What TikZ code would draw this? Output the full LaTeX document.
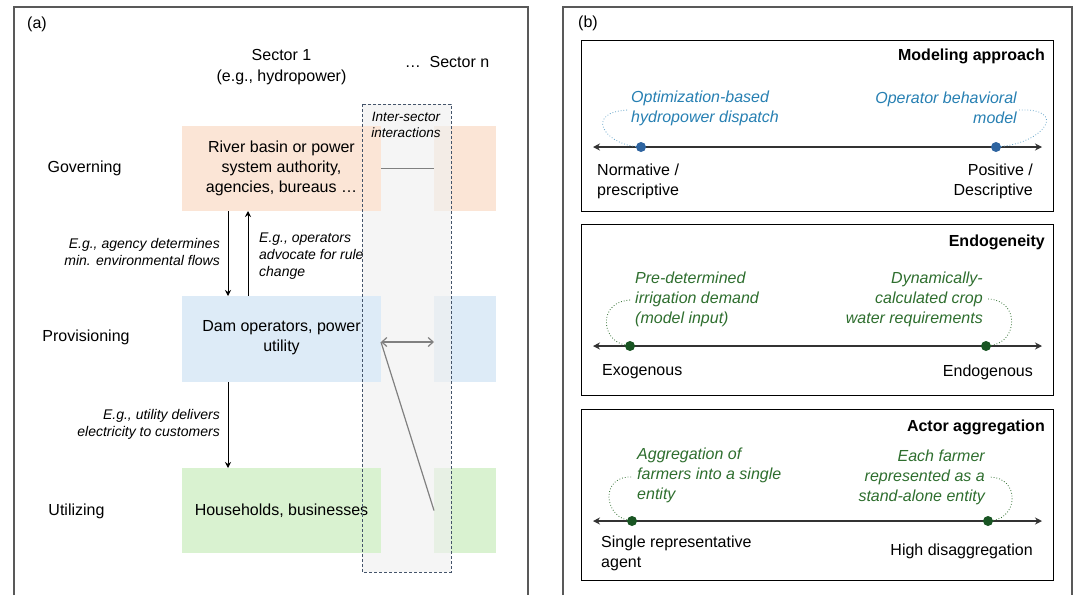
\documentclass[tikz,border=0pt]{standalone}
\usepackage{fontspec}
\setmainfont{Liberation Sans}
\usetikzlibrary{arrows.meta}
\definecolor{orangeF}{HTML}{FBE5D6}
\definecolor{blueF}{HTML}{DDEBF7}
\definecolor{greenF}{HTML}{D9F2D0}
\definecolor{isecF}{HTML}{F0F0F0}
\definecolor{isecD}{HTML}{44546A}
\definecolor{panelC}{HTML}{595959}
\definecolor{conC}{HTML}{808080}
\definecolor{exBlue}{RGB}{38,127,178}
\definecolor{dotBlue}{RGB}{46,100,160}
\definecolor{exGreen}{RGB}{46,110,46}
\definecolor{dotGreen}{RGB}{25,85,35}
\begin{document}
\begin{tikzpicture}[x=1pt,y=-1pt,
  txt/.style={font=\fontsize{16}{20}\selectfont, inner sep=0pt, align=center},
  note/.style={font=\fontsize{14}{17}\selectfont\itshape, inner sep=0pt},
  ex/.style={font=\fontsize{16}{20}\selectfont\itshape, inner sep=0pt},
  ttl/.style={font=\fontsize{16}{20}\selectfont\bfseries, inner sep=0pt, anchor=east},
  sbox/.style={inner sep=0pt, outer sep=0pt, draw=none, align=center, font=\fontsize{16}{20}\selectfont},
  lbox/.style={sbox, minimum width=199pt},
  rsbox/.style={sbox, minimum width=62pt},
  rbox/.style={draw=black, line width=1pt, minimum width=472pt, minimum height=171pt, inner sep=0pt},
  panel/.style={draw=panelC, line width=1.2pt},
  flow/.style={draw=black, line width=1pt, -{Stealth[length=6pt,width=6pt]}},
  inter/.style={draw=conC, line width=1.2pt},
  axis/.style={draw=black!80, line width=1.2pt, {Stealth[length=7pt,width=7pt]}-{Stealth[length=7pt,width=7pt]}},
  bdot/.style={circle, fill=dotBlue, inner sep=0pt, minimum size=10pt},
  gdot/.style={circle, fill=dotGreen, inner sep=0pt, minimum size=10pt},
  bcurve/.style={draw=exBlue!70, line width=0.8pt, dotted},
  gcurve/.style={draw=exGreen, line width=0.8pt, dotted}
]
\useasboundingbox (0,0) rectangle (1076,595);

% panels
\draw[panel] (14,595) -- (14,7) -- (528,7) -- (528,595);
\draw[panel] (563,595) -- (563,7) -- (1072,7) -- (1072,595);
\node[txt] (la) at (37,24) {(a)};
\node[txt] (lb) at (588,23) {(b)};

% headings
\node[txt, font=\fontsize{16}{21}\selectfont] (s1) at (281.5,67) {Sector 1\\(e.g., hydropower)};
\node[txt] (sn) at (447,62) {…\ \ Sector n};

% row labels
\node[txt] (rg) at (84.5,168) {Governing};
\node[txt] (rp) at (86,337) {Provisioning};
\node[txt] (ru) at (76.5,511) {Utilizing};

% right sector boxes
\node[rsbox, fill=orangeF, minimum height=85pt] (gov2) at (465,168.5) {};
\node[rsbox, fill=blueF, minimum height=86pt] (prov2) at (465,339) {};
\node[rsbox, fill=greenF, minimum height=85pt] (util2) at (465,510.5) {};

% inter-sector background
\node[inner sep=0pt, outer sep=0pt, fill=isecF, fill opacity=0.65, minimum width=89pt, minimum height=468pt] (isec) at (406.5,338) {};

% left sector boxes
\node[lbox, fill=orangeF, minimum height=85pt] (gov1) at (281.5,168.5) {River basin or power\\system authority,\\agencies, bureaus …};
\node[lbox, fill=blueF, minimum height=86pt, text depth=6pt] (prov1) at (281.5,339) {Dam operators, power\\utility};
\node[lbox, fill=greenF, minimum height=85pt] (util1) at (281.5,510.5) {Households, businesses};

\draw[draw=isecD, line width=1pt, dash pattern=on 3pt off 2pt] (isec.north west) rectangle (isec.south east);
\node[note, align=center, font=\fontsize{13.5}{16}\selectfont\itshape] (isl) at (406,125) {Inter-sector\\interactions};

% inter-sector connectors
\draw[inter] (gov1.east) -- (gov2.west);
\draw[inter, {Straight Barb[length=5pt,width=9pt]}-{Straight Barb[length=5pt,width=9pt]}] ([yshift=-3pt]prov1.east) -- ([yshift=-3pt]prov2.west);
\draw[inter] (util2.west) -- ([yshift=-3pt]prov1.east);

% vertical flows
\coordinate (cx1) at (228,0);
\coordinate (cx2) at (248,0);
\draw[flow] (gov1.south -| cx1) -- (prov1.north -| cx1);
\draw[flow] (prov1.north -| cx2) -- (gov1.south -| cx2);
\draw[flow] (prov1.south -| cx1) -- (util1.north -| cx1);

\node[note, anchor=east, align=right] (n1) at (220,252) {E.g., agency determines\\min. environmental flows};
\node[note, anchor=west, align=left] (n2) at (259,256.5) {E.g., operators\\advocate for rule\\change};
\node[note, anchor=east, align=right] (n3) at (220,424) {E.g., utility delivers\\electricity to customers};

% ===== panel (b) =====
% box 1
\node[rbox] (m1) at (817,125.5) {};
\node[ttl] (m1t) at (1045,56) {Modeling approach};
\coordinate (a1l) at (593,147);
\coordinate (a1r) at (1042,147);
\draw[axis] (a1l) -- (a1r);
\node[bdot] (d1) at (641,147) {};
\node[bdot] (d2) at (996,147) {};
\node[ex, text=exBlue, anchor=west, align=left] (t1) at (631,108) {Optimization-based\\hydropower dispatch};
\node[ex, text=exBlue, anchor=east, align=right] (t2) at (1017,108) {Operator behavioral\\model};
\draw[bcurve] (d1) .. controls (603,143) and (585,112) .. ([xshift=-3pt,yshift=-2pt]t1.west);
\draw[bcurve] (d2) .. controls (1045,142) and (1068,108) .. ([xshift=2pt,yshift=-2pt]t2.east);
\node[txt, anchor=west, align=left] (l1) at (597,181) {Normative /\\prescriptive};
\node[txt, anchor=east, align=right] (r1) at (1033,181) {Positive /\\Descriptive};

% box 2
\node[rbox] (m2) at (817,310) {};
\node[ttl] (m2t) at (1045,242) {Endogeneity};
\coordinate (a2l) at (593,346);
\coordinate (a2r) at (1042,346);
\draw[axis] (a2l) -- (a2r);
\node[gdot] (d3) at (630,346) {};
\node[gdot] (d4) at (986,346) {};
\node[ex, text=exGreen, anchor=west, align=left] (t3) at (635,299) {Pre-determined\\irrigation demand\\(model input)};
\node[ex, text=exGreen, anchor=east, align=right] (t4) at (983,299) {Dynamically-\\calculated crop\\water requirements};
\draw[gcurve] (d3) .. controls (600,340) and (598,300) .. ([xshift=-3pt,yshift=-1pt]t3.west);
\draw[gcurve] (d4) .. controls (1018,342) and (1020,300) .. ([xshift=5pt]t4.east);
\node[txt, anchor=west] (l2) at (602,372) {Exogenous};
\node[txt, anchor=east] (r2) at (1033,372) {Endogenous};

% box 3
\node[rbox] (m3) at (817,494.5) {};
\node[ttl] (m3t) at (1045,427) {Actor aggregation};
\coordinate (a3l) at (593,521);
\coordinate (a3r) at (1042,521);
\draw[axis] (a3l) -- (a3r);
\node[gdot] (d5) at (632,521) {};
\node[gdot] (d6) at (988,521) {};
\node[ex, text=exGreen, anchor=west, align=left] (t5) at (637,475) {Aggregation of\\farmers into a single\\entity};
\node[ex, text=exGreen, anchor=east, align=right] (t6) at (985,477) {Each farmer\\represented as a\\stand-alone entity};
\draw[gcurve] (d5) .. controls (604,515) and (600,475) .. ([xshift=-4pt,yshift=-2pt]t5.west);
\draw[gcurve] (d6) .. controls (1018,517) and (1020,478) .. ([xshift=5pt]t6.east);
\node[txt, anchor=west, align=left] (l3) at (601,553) {Single representative\\agent};
\node[txt, anchor=east] (r3) at (1033,551) {High disaggregation};
\end{tikzpicture}
\end{document}
